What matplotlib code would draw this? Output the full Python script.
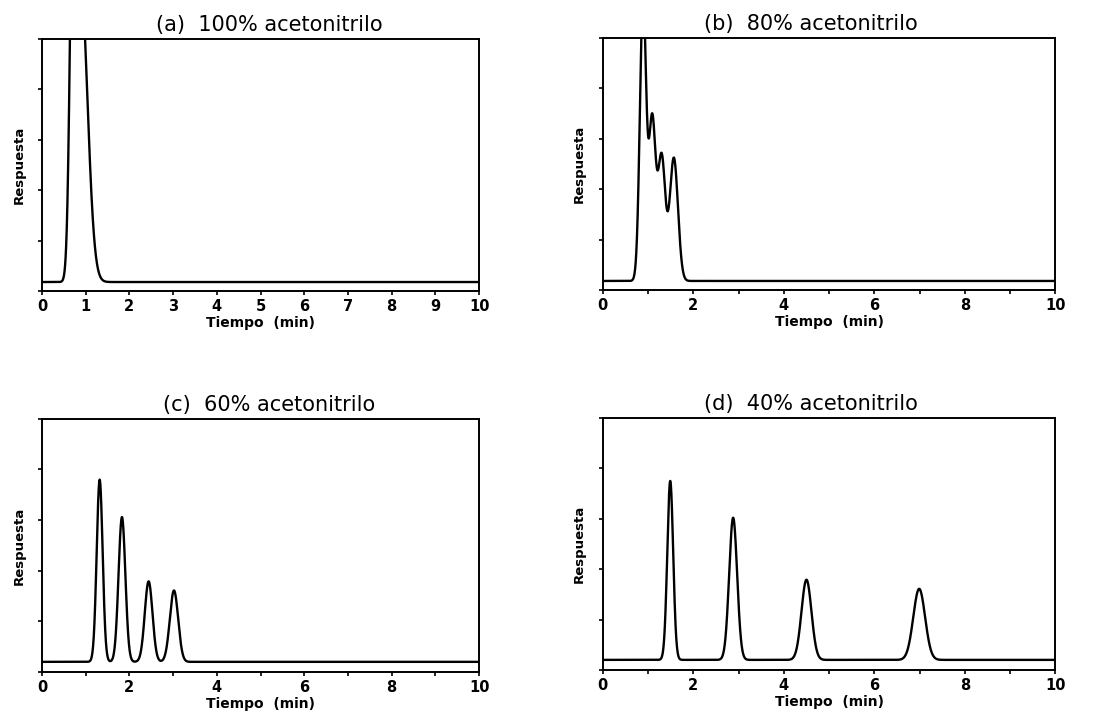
import numpy as np
import matplotlib.pyplot as plt
from matplotlib.ticker import MultipleLocator, NullFormatter

plt.rcParams['font.family'] = ['DejaVu Sans']

# Peak tables: retention time (min),
# height above baseline, left / right widths (min)
titles = ["(a)  100% acetonitrilo", "(b)  80% acetonitrilo",
          "(c)  60% acetonitrilo", "(d)  40% acetonitrilo"]
baselines = [0.18, 0.18, 0.20, 0.20]

# (a) co-eluting compounds, top goes off scale
tr_a = [0.72, 0.88]
h_a = [8.4, 6.0]
sl_a = [0.075, 0.080]
sr_a = [0.075, 0.160]

tr_b = [0.89, 1.09, 1.30, 1.57]
h_b = [5.6, 3.2, 2.45, 2.44]
sl_b = [0.070, 0.075, 0.080, 0.090]
sr_b = [0.065, 0.075, 0.080, 0.090]

tr_c = [1.32, 1.83, 2.44, 3.02]
h_c = [3.60, 2.86, 1.59, 1.41]
sl_c = [0.068, 0.078, 0.088, 0.095]
sr_c = [0.068, 0.078, 0.088, 0.095]

tr_d = [1.49, 2.88, 4.50, 6.99]
h_d = [3.55, 2.82, 1.59, 1.41]
sl_d = [0.065, 0.088, 0.110, 0.130]
sr_d = [0.065, 0.088, 0.110, 0.130]

peaks = [(tr_a, h_a, sl_a, sr_a), (tr_b, h_b, sl_b, sr_b),
         (tr_c, h_c, sl_c, sr_c), (tr_d, h_d, sl_d, sr_d)]
major_steps = [1, 2, 2, 2]

t = np.linspace(0, 10, 4001)


def trace(base, tr, h, sl, sr):
    y = np.full_like(t, base)
    for c, a, s1, s2 in zip(tr, h, sl, sr):
        s = np.where(t < c, s1, s2)
        y += a * np.exp(-0.5 * ((t - c) / s) ** 2)
    return y


fig = plt.figure(figsize=(11.04, 7.17), dpi=100)
boxes = [[0.038, 0.594, 0.396, 0.3515],
         [0.546, 0.5955, 0.410, 0.3515],
         [0.038, 0.0628, 0.396, 0.353],
         [0.546, 0.0656, 0.410, 0.3515]]
title_x = [0.52, 0.46, 0.52, 0.46]

for box, title, tx, base, pk, step in zip(boxes, titles, title_x, baselines, peaks, major_steps):
    ax = fig.add_axes(box)
    ax.plot(t, trace(base, *pk), color='black', lw=1.7)
    ax.set_xlim(0, 10)
    ax.set_ylim(0, 5)
    ax.xaxis.set_major_locator(MultipleLocator(step))
    ax.xaxis.set_minor_locator(MultipleLocator(1))
    ax.yaxis.set_major_locator(MultipleLocator(1))
    ax.yaxis.set_major_formatter(NullFormatter())
    ax.tick_params(direction='out', length=3, width=1.2, labelsize=10.5, pad=3)
    ax.tick_params(which='minor', direction='out', length=3, width=1.2)
    for lab in ax.get_xticklabels():
        lab.set_fontweight('bold')
    for sp in ax.spines.values():
        sp.set_linewidth(1.4)
    ax.set_title(title, fontsize=15, x=tx, pad=6)
    ax.set_xlabel("Tiempo  (min)", fontsize=10, fontweight='bold', labelpad=1)
    ax.set_ylabel("Respuesta", fontsize=9.5, fontweight='bold', labelpad=6)

fig.savefig("out.png", dpi=100)
